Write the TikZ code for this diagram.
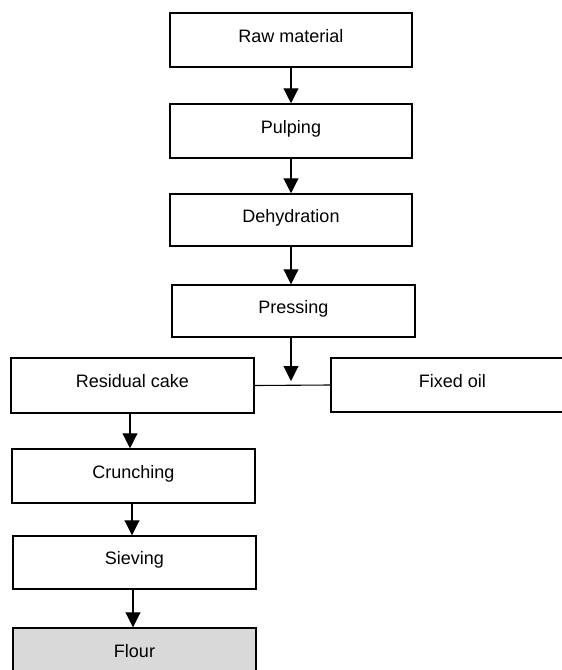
\documentclass[tikz,border=0pt]{standalone}
\usepackage{fontspec}
\setmainfont{Liberation Sans}
\usetikzlibrary{arrows.meta}
\definecolor{flourgray}{HTML}{D9D9D9}
\begin{document}
\begin{tikzpicture}[x=1pt,y=-1pt,
  box/.style={draw, line width=1.5pt, inner sep=0pt, minimum width=242pt,
    font=\fontsize{18}{20}\selectfont, text height=13pt, text depth=8.5pt},
  conn/.style={line width=1.1pt},
  arr/.style={conn, -{Triangle[width=15pt,length=15pt]}}]
\useasboundingbox (0,0) rectangle (562,670);
\clip (0,0) rectangle (562,670);
\node[box, minimum height=54pt] (raw) at (291,40) {Raw material};
\node[box, minimum height=54pt] (pulp) at (291,131) {Pulping};
\node[box, minimum height=52pt] (dehy) at (291,220) {Dehydration};
\node[box, minimum height=52pt, minimum width=243pt] (press) at (293.5,311) {Pressing};
\node[box, minimum height=55pt, minimum width=243pt] (res) at (132.5,385.5) {Residual cake};
\node[box, minimum height=54pt, minimum width=243pt] (oil) at (452.5,385) {Fixed oil};
\node[box, minimum height=54pt, minimum width=243pt] (crun) at (133.5,476) {Crunching};
\node[box, minimum height=53pt, minimum width=243pt] (siev) at (134.5,562.5) {Sieving};
\node[box, minimum height=54pt, minimum width=243pt, fill=flourgray] (flour) at (134.5,655) {Flour};
\coordinate (pj) at (291,381);
\coordinate (rc) at (130,0);
\coordinate (sc) at (132,0);
\coordinate (fc) at (133,0);
\draw[arr] (raw.south) -- (pulp.north);
\draw[arr] (pulp.south) -- (dehy.north);
\draw[arr] (dehy.south) -- (press.north -| dehy.south);
\draw[arr] (press.south -| pj) -- (pj);
\draw[conn] (res.east) -- (oil.west);
\draw[arr] (res.south -| rc) -- (crun.north -| rc);
\draw[arr] (crun.south -| sc) -- (siev.north -| sc);
\draw[arr] (siev.south -| fc) -- (flour.north -| fc);
\end{tikzpicture}
\end{document}
